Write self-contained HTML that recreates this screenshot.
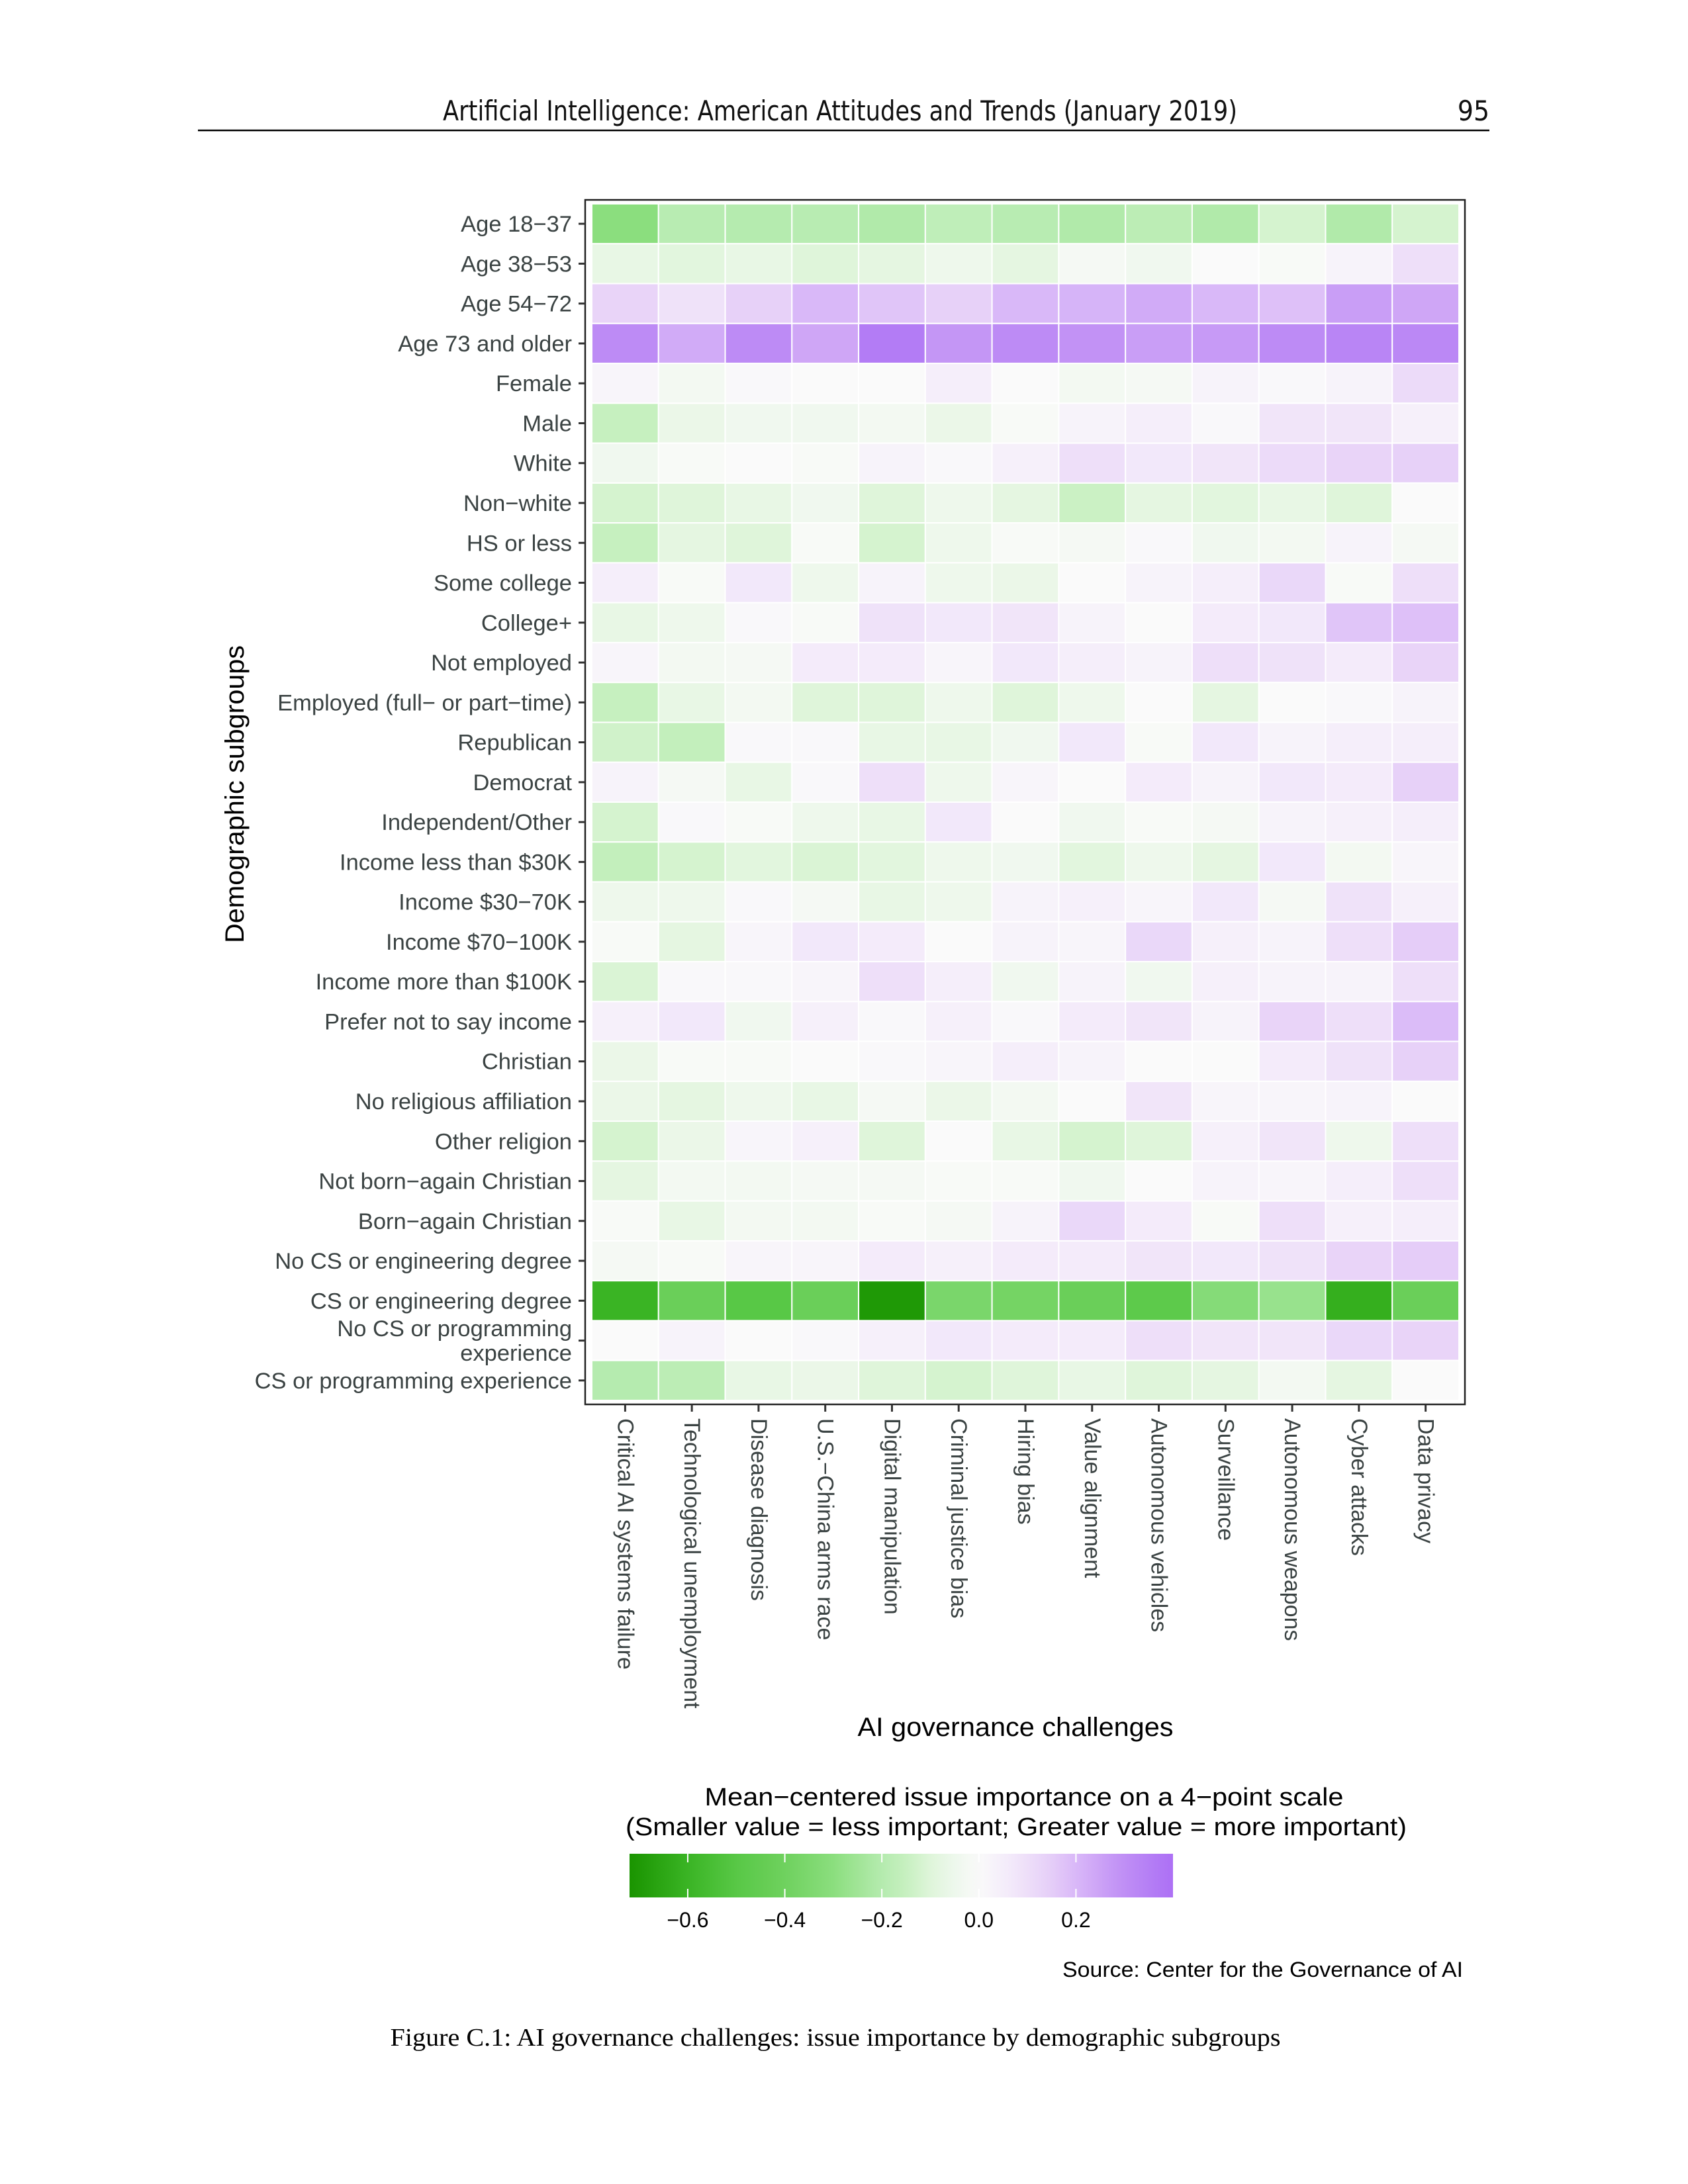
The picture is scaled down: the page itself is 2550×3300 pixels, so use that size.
<!DOCTYPE html>
<html><head><meta charset="utf-8"><style>
html,body{margin:0;padding:0;background:#fff}
svg{display:block}
</style></head><body>
<svg id="chart" width="2550" height="3300" viewBox="0 0 2550 3300" xmlns="http://www.w3.org/2000/svg">
<rect width="2550" height="3300" fill="#fff"/>
<text x="669" y="182" font-family="DejaVu Sans Condensed, DejaVu Sans, sans-serif" font-size="42" fill="#111" textLength="1200" lengthAdjust="spacingAndGlyphs">Artificial Intelligence: American Attitudes and Trends (January 2019)</text>
<text x="2250" y="182" text-anchor="end" font-family="DejaVu Sans Condensed, DejaVu Sans, sans-serif" font-size="42" fill="#111">95</text>
<line x1="299" y1="197" x2="2250" y2="197" stroke="#000" stroke-width="2.5"/>
<g id="heat"></g>
<rect x="884" y="302" width="1329" height="1820" fill="none" stroke="#222" stroke-width="2.5"/>
<text transform="translate(368,1200) rotate(-90)" text-anchor="middle" font-family="Liberation Sans, sans-serif" font-size="40" fill="#000" textLength="450" lengthAdjust="spacingAndGlyphs">Demographic subgroups</text>
<text x="1534" y="2623" text-anchor="middle" font-family="Liberation Sans, sans-serif" font-size="40" fill="#000" textLength="477" lengthAdjust="spacingAndGlyphs">AI governance challenges</text>
<defs><linearGradient id="lg" x1="0" x2="1" y1="0" y2="0"></linearGradient></defs>
<text x="1547" y="2700" text-anchor="middle" font-family="Liberation Sans, sans-serif" font-size="38" fill="#000" textLength="965" lengthAdjust="spacingAndGlyphs" dy="28">Mean−centered issue importance on a 4−point scale</text>
<text x="1535" y="2745" text-anchor="middle" font-family="Liberation Sans, sans-serif" font-size="38" fill="#000" textLength="1180" lengthAdjust="spacingAndGlyphs" dy="28">(Smaller value = less important; Greater value = more important)</text>
<rect x="951" y="2801" width="821" height="66" fill="url(#lg)"/>
<g id="legend-ticks"></g>
<text x="2192" y="2987" text-anchor="end" font-family="Liberation Sans, sans-serif" font-size="32" fill="#000" textLength="605" lengthAdjust="spacingAndGlyphs" dx="18">Source: Center for the Governance of AI</text>
<text x="1262" y="3091" text-anchor="middle" font-family="Liberation Serif, serif" font-size="38" fill="#000" textLength="1345" lengthAdjust="spacingAndGlyphs">Figure C.1: AI governance challenges: issue importance by demographic subgroups</text>
</svg>
<script>
const rowLabels = ["Age 18−37","Age 38−53","Age 54−72","Age 73 and older","Female","Male","White","Non−white","HS or less","Some college","College+","Not employed","Employed (full− or part−time)","Republican","Democrat","Independent/Other","Income less than $30K","Income $30−70K","Income $70−100K","Income more than $100K","Prefer not to say income","Christian","No religious affiliation","Other religion","Not born−again Christian","Born−again Christian","No CS or engineering degree","CS or engineering degree","No CS or programming|experience","CS or programming experience"];
const colLabels = ["Critical AI systems failure","Technological unemployment","Disease diagnosis","U.S.−China arms race","Digital manipulation","Criminal justice bias","Hiring bias","Value alignment","Autonomous vehicles","Surveillance","Autonomous weapons","Cyber attacks","Data privacy"];
const values = [
[-0.30,-0.19,-0.20,-0.19,-0.21,-0.17,-0.19,-0.21,-0.18,-0.21,-0.12,-0.21,-0.12],
[-0.07,-0.09,-0.07,-0.10,-0.08,-0.05,-0.08,-0.02,-0.04,0.00,-0.01,0.03,0.10],
[0.13,0.09,0.14,0.20,0.17,0.14,0.20,0.21,0.23,0.20,0.18,0.26,0.24],
[0.31,0.23,0.31,0.24,0.36,0.28,0.31,0.29,0.26,0.27,0.31,0.33,0.32],
[0.02,-0.03,0.01,0.00,0.00,0.05,0.00,-0.03,-0.02,0.03,0.01,0.03,0.11],
[-0.15,-0.06,-0.04,-0.04,-0.03,-0.06,-0.01,0.03,0.05,0.01,0.08,0.08,0.04],
[-0.04,-0.01,0.00,-0.01,0.03,0.01,0.04,0.10,0.07,0.08,0.11,0.13,0.14],
[-0.12,-0.10,-0.07,-0.04,-0.10,-0.05,-0.08,-0.14,-0.08,-0.09,-0.07,-0.10,0.00],
[-0.15,-0.08,-0.10,-0.01,-0.12,-0.05,-0.01,-0.02,0.01,-0.04,-0.03,0.03,-0.02],
[0.05,-0.01,0.07,-0.05,0.03,-0.05,-0.06,0.00,0.03,0.05,0.12,-0.01,0.10],
[-0.07,-0.05,0.01,-0.01,0.09,0.07,0.08,0.03,0.00,0.06,0.07,0.17,0.18],
[0.02,-0.03,-0.02,0.06,0.06,0.02,0.07,0.05,0.03,0.10,0.09,0.06,0.13],
[-0.15,-0.07,-0.03,-0.10,-0.10,-0.05,-0.10,-0.05,0.00,-0.08,0.00,0.01,0.03],
[-0.13,-0.16,0.01,0.01,-0.07,-0.07,-0.04,0.07,-0.01,0.07,0.03,0.05,0.05],
[0.03,-0.02,-0.07,0.01,0.10,-0.05,0.02,0.00,0.06,0.03,0.07,0.06,0.14],
[-0.12,0.01,-0.01,-0.05,-0.07,0.07,0.00,-0.04,-0.01,-0.02,0.03,0.04,0.05],
[-0.16,-0.12,-0.09,-0.11,-0.09,-0.05,-0.04,-0.09,-0.05,-0.08,0.07,-0.03,0.02],
[-0.05,-0.05,0.01,-0.02,-0.07,-0.05,0.03,0.04,0.02,0.07,-0.02,0.09,0.04],
[-0.01,-0.08,0.02,0.07,0.06,0.00,0.03,0.02,0.12,0.04,0.03,0.10,0.15],
[-0.11,0.01,0.01,0.02,0.10,0.05,-0.04,0.03,-0.04,0.04,0.03,0.03,0.10],
[0.04,0.07,-0.04,0.04,0.01,0.04,0.01,0.06,0.08,0.03,0.13,0.10,0.19],
[-0.06,-0.01,-0.01,0.00,0.01,0.02,0.05,0.03,0.00,0.00,0.06,0.09,0.14],
[-0.06,-0.08,-0.05,-0.07,-0.02,-0.06,-0.03,0.00,0.08,0.02,0.02,0.03,0.00],
[-0.12,-0.06,0.02,0.04,-0.10,0.00,-0.07,-0.12,-0.10,0.04,0.08,-0.05,0.10],
[-0.08,-0.03,-0.03,-0.02,-0.02,-0.01,-0.01,-0.04,0.00,0.03,0.02,0.05,0.10],
[-0.01,-0.07,-0.03,-0.03,-0.01,-0.02,0.03,0.12,0.06,-0.01,0.10,0.04,0.05],
[-0.02,-0.01,0.02,0.02,0.06,0.04,0.06,0.06,0.08,0.07,0.09,0.13,0.15],
[-0.60,-0.42,-0.50,-0.42,-0.70,-0.36,-0.38,-0.42,-0.48,-0.32,-0.27,-0.62,-0.42],
[0.00,0.03,0.00,0.01,0.04,0.07,0.06,0.06,0.10,0.08,0.08,0.12,0.13],
[-0.20,-0.18,-0.07,-0.06,-0.10,-0.12,-0.10,-0.07,-0.10,-0.08,-0.03,-0.08,0.00]
];
const legendTicks = [-0.6,-0.4,-0.2,0.0,0.2];
const legendTickLabels = ["−0.6","−0.4","−0.2","0.0","0.2"];
const legendMin = -0.72, legendMax = 0.40;

const NS = "http://www.w3.org/2000/svg";
const X0 = 894, CW = (2204-894)/13, Y0 = 308, RH = (2116-308)/30;
const xPos = i => X0 + i*CW;
const yPos = j => Y0 + j*RH;
const lx = v => 951 + (v - legendMin)/(legendMax - legendMin)*821;

const stops = [[-0.72,[26,148,0]],[-0.6,[58,180,36]],[-0.5,[88,200,70]],[-0.4,[111,209,94]],[-0.3,[139,222,126]],[-0.2,[181,235,175]],[-0.15,[198,240,191]],[-0.1,[223,245,218]],[-0.05,[238,248,236]],[0,[250,250,250]],[0.05,[245,238,250]],[0.1,[238,223,249]],[0.15,[229,205,248]],[0.2,[217,184,248]],[0.25,[204,162,246]],[0.3,[191,142,245]],[0.35,[181,127,245]],[0.4,[173,112,245]]];
function color(v){
  if(v<=stops[0][0]) return rgb(stops[0][1]);
  for(let k=1;k<stops.length;k++){
    if(v<=stops[k][0]){
      const a=stops[k-1],b=stops[k],t=(v-a[0])/(b[0]-a[0]);
      return rgb(a[1].map((c,i)=>c+(b[1][i]-c)*t));
    }
  }
  return rgb(stops[stops.length-1][1]);
}
function rgb(c){return "rgb("+c.map(x=>Math.round(x)).join(",")+")";}
function mk(tag,attrs,parent){const e=document.createElementNS(NS,tag);for(const k in attrs)e.setAttribute(k,attrs[k]);parent.appendChild(e);return e;}

const heat = document.getElementById("heat");
values.forEach((row,j)=>{
  row.forEach((v,i)=>{
    const r = mk("rect",{x:xPos(i),y:yPos(j),width:CW,height:RH,fill:color(v),stroke:"#fff","stroke-width":2},heat);
    
    
  });
});
const svg = document.getElementById("chart");
rowLabels.forEach((lab,j)=>{
  const cy = yPos(j)+RH/2;
  const t = mk("line",{x1:874,x2:884,y1:cy,y2:cy,stroke:"#333","stroke-width":3},svg);
  
  
  const parts = lab.split("|");
  const tx = mk("text",{x:864,"text-anchor":"end","font-family":"Liberation Sans, sans-serif","font-size":34.5,fill:"#3b4343"},svg);
  
  
  parts.forEach((p,k)=>{
    const ts = mk("tspan",{x:864,y:cy+12+(k-(parts.length-1)/2)*37},tx);
    ts.textContent = p;
  });
});
colLabels.forEach((lab,i)=>{
  const cx = xPos(i)+CW/2;
  const t = mk("line",{x1:cx,x2:cx,y1:2122,y2:2133,stroke:"#333","stroke-width":3},svg);
  
  
  const tx = mk("text",{transform:"translate("+(cx-11)+",2143) rotate(90)","font-family":"Liberation Sans, sans-serif","font-size":34,fill:"#3b4343"},svg);
  
  
  tx.textContent = lab;
});
const lg = document.getElementById("lg");
for(let k=0;k<=40;k++){
  const v = legendMin + (legendMax-legendMin)*k/40;
  mk("stop",{offset:(k/40*100)+"%","stop-color":color(v)},lg);
}
const lt = document.getElementById("legend-ticks");
legendTicks.forEach((v,k)=>{
  const x = lx(v);
  const a = mk("line",{x1:x,x2:x,y1:2801,y2:2814,stroke:"#fff","stroke-width":2},lt);
  
  
  const b = mk("line",{x1:x,x2:x,y1:2854,y2:2867,stroke:"#fff","stroke-width":2},lt);
  
  
  const t = mk("text",{x:x,y:2912,"text-anchor":"middle","font-family":"Liberation Sans, sans-serif","font-size":32,fill:"#000"},lt);
  
  
  t.textContent = legendTickLabels[k];
});
</script>
</body></html>
